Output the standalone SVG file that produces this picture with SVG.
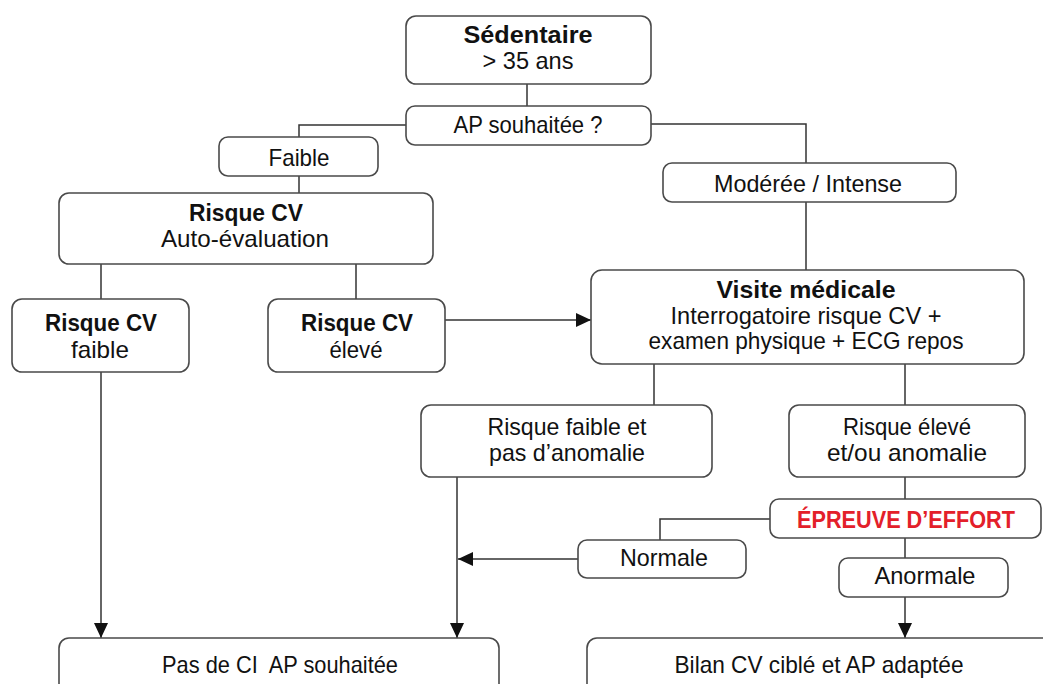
<svg xmlns="http://www.w3.org/2000/svg" width="1043" height="684" viewBox="0 0 1043 684">
<defs>
<style>
.box{fill:#fff;stroke:#4a4a4a;stroke-width:1.6}
.t{font-family:"Liberation Sans",Arial,sans-serif;font-size:24px;fill:#111;text-anchor:middle;white-space:pre}
.b{font-weight:bold}
.red{fill:#e3202a}
.ln{fill:none;stroke:#333;stroke-width:1.5}
</style>
<marker id="ah" viewBox="0 0 15 14" refX="15" refY="7" markerWidth="15" markerHeight="14" markerUnits="userSpaceOnUse" orient="auto">
<path d="M0,0 L15,7 L0,14 Z" fill="#111"/>
</marker>
</defs>
<rect width="1043" height="684" fill="#fff"/>
<g id="connectors">
<path class="ln" d="M527,84 V106"/>
<path class="ln" d="M406,125 H299 V137"/>
<path class="ln" d="M299,176 V193"/>
<path class="ln" d="M651,124 H806 V163"/>
<path class="ln" d="M806,202 V270"/>
<path class="ln" d="M101,264 V299"/>
<path class="ln" d="M356,264 V299"/>
<path class="ln" d="M445,320 H591" marker-end="url(#ah)"/>
<path class="ln" d="M654,364 V405"/>
<path class="ln" d="M905,364 V405"/>
<path class="ln" d="M101,372 V638" marker-end="url(#ah)"/>
<path class="ln" d="M457,477 V638" marker-end="url(#ah)"/>
<path class="ln" d="M905,477 V499"/>
<path class="ln" d="M770,519 H660 V540"/>
<path class="ln" d="M578,559 H458" marker-end="url(#ah)"/>
<path class="ln" d="M905,538 V558"/>
<path class="ln" d="M905,597 V638" marker-end="url(#ah)"/>
</g>
<g id="sedentaire">
<rect class="box" x="406" y="16" width="245" height="68" rx="10"/>
<text class="t b" x="528" y="43" textLength="129" lengthAdjust="spacingAndGlyphs">Sédentaire</text>
<text class="t" x="528" y="69" textLength="91" lengthAdjust="spacingAndGlyphs">&gt; 35 ans</text>
</g>
<g id="ap-souhaitee">
<rect class="box" x="406" y="106" width="245" height="39" rx="9"/>
<text class="t" x="528" y="133" textLength="149" lengthAdjust="spacingAndGlyphs">AP souhaitée ?</text>
</g>
<g id="faible">
<rect class="box" x="219" y="137" width="159" height="39" rx="9"/>
<text class="t" x="299" y="166" textLength="61" lengthAdjust="spacingAndGlyphs">Faible</text>
</g>
<g id="moderee">
<rect class="box" x="663" y="163" width="293" height="39" rx="9"/>
<text class="t" x="808" y="192" textLength="188" lengthAdjust="spacingAndGlyphs">Modérée / Intense</text>
</g>
<g id="risque-auto">
<rect class="box" x="59" y="193" width="374" height="71" rx="10"/>
<text class="t b" x="246" y="221" textLength="114" lengthAdjust="spacingAndGlyphs">Risque CV</text>
<text class="t" x="245" y="247" textLength="168" lengthAdjust="spacingAndGlyphs">Auto-évaluation</text>
</g>
<g id="risque-faible">
<rect class="box" x="12" y="299" width="177" height="73" rx="10"/>
<text class="t b" x="101" y="331" textLength="112" lengthAdjust="spacingAndGlyphs">Risque CV</text>
<text class="t" x="100" y="358" textLength="58" lengthAdjust="spacingAndGlyphs">faible</text>
</g>
<g id="risque-eleve">
<rect class="box" x="268" y="299" width="177" height="73" rx="10"/>
<text class="t b" x="357" y="331" textLength="112" lengthAdjust="spacingAndGlyphs">Risque CV</text>
<text class="t" x="356" y="358" textLength="53" lengthAdjust="spacingAndGlyphs">élevé</text>
</g>
<g id="visite">
<rect class="box" x="591" y="270" width="433" height="94" rx="11"/>
<text class="t b" x="806" y="298" textLength="179" lengthAdjust="spacingAndGlyphs">Visite médicale</text>
<text class="t" x="806" y="324" textLength="271" lengthAdjust="spacingAndGlyphs">Interrogatoire risque CV +</text>
<text class="t" x="806" y="349" textLength="315" lengthAdjust="spacingAndGlyphs">examen physique + ECG repos</text>
</g>
<g id="risque-faible-anomalie">
<rect class="box" x="421" y="405" width="291" height="72" rx="10"/>
<text class="t" x="567" y="435" textLength="159" lengthAdjust="spacingAndGlyphs">Risque faible et</text>
<text class="t" x="567" y="461" textLength="156" lengthAdjust="spacingAndGlyphs">pas d’anomalie</text>
</g>
<g id="risque-eleve-anomalie">
<rect class="box" x="789" y="405" width="236" height="72" rx="10"/>
<text class="t" x="907" y="435" textLength="128" lengthAdjust="spacingAndGlyphs">Risque élevé</text>
<text class="t" x="907" y="461" textLength="160" lengthAdjust="spacingAndGlyphs">et/ou anomalie</text>
</g>
<g id="epreuve">
<rect class="box" x="770" y="499" width="271" height="39" rx="9"/>
<text class="t b red" x="906" y="528" textLength="218" lengthAdjust="spacingAndGlyphs">ÉPREUVE D’EFFORT</text>
</g>
<g id="normale">
<rect class="box" x="578" y="540" width="168" height="38" rx="9"/>
<text class="t" x="664" y="566" textLength="88" lengthAdjust="spacingAndGlyphs">Normale</text>
</g>
<g id="anormale">
<rect class="box" x="839" y="558" width="169" height="39" rx="9"/>
<text class="t" x="925" y="584" textLength="101" lengthAdjust="spacingAndGlyphs">Anormale</text>
</g>
<g id="pas-de-ci">
<rect class="box" x="59" y="638" width="440" height="70" rx="10"/>
<text class="t" x="280" y="673" textLength="236" lengthAdjust="spacingAndGlyphs">Pas de CI  AP souhaitée</text>
</g>
<g id="bilan">
<rect class="box" x="587" y="638" width="470" height="70" rx="10"/>
<text class="t" x="819" y="673" textLength="289" lengthAdjust="spacingAndGlyphs">Bilan CV ciblé et AP adaptée</text>
</g>
</svg>
